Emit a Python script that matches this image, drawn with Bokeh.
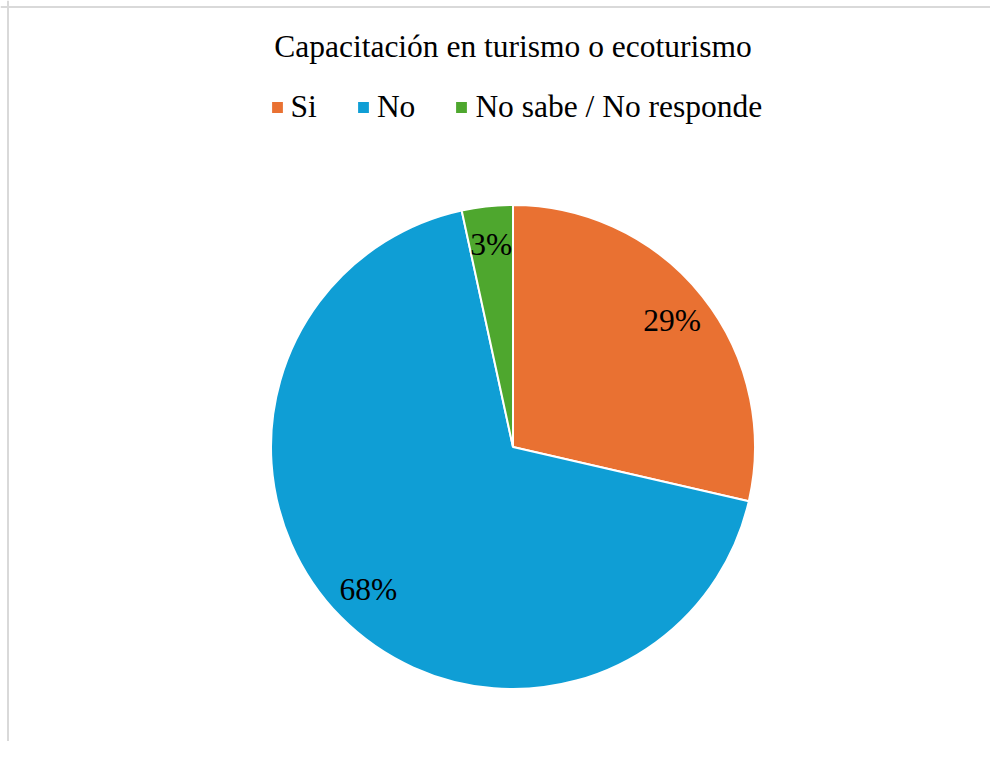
import numpy as np
from bokeh.plotting import figure
from bokeh.models import ColumnDataSource, Range1d, Span, Label
from bokeh.core.properties import value
from bokeh.embed import file_html
from bokeh.resources import INLINE

# ---- data ----
categories = ["Si", "No", "No sabe / No responde"]
shares = [28.6, 68.0, 3.4]          # percent
colors = ["#E97132", "#0F9ED5", "#4EA72E"]
title_text = "Capacitación en turismo o ecoturismo"

# ---- layout constants ----
W, H = 990, 741
CX, CY, R = 512.5, H - 446.5, 242
FONT = "Liberation Serif"
FS = "31.5px"

vals = np.array(shares, dtype=float)
frac = vals / vals.sum()
cum = np.concatenate([[0.0], np.cumsum(frac)])
start = np.pi / 2 - 2 * np.pi * cum[:-1]
end = np.pi / 2 - 2 * np.pi * cum[1:]
mid = (start + end) / 2
lab_r = 0.84 * R

src = ColumnDataSource(dict(
    cat=categories, start=start, end=end, color=colors,
    lx=CX + lab_r * np.cos(mid), ly=CY + lab_r * np.sin(mid),
    txt=[f"{v:.0f}%" for v in vals],
))

p = figure(width=W, height=H, output_backend="svg", toolbar_location=None,
           x_range=Range1d(0, W), y_range=Range1d(0, H), title=None,
           x_axis_location=None, y_axis_location=None, min_border=0)
p.grid.visible = False
p.outline_line_color = None
p.background_fill_color = "white"
p.border_fill_color = "white"

p.wedge(x=CX, y=CY, radius=R, start_angle="start", end_angle="end",
        direction="clock", fill_color="color", line_color="white",
        line_width=2, legend_field="cat", source=src)

p.text(x="lx", y="ly", text="txt", source=src, text_font=value(FONT),
       text_font_size=FS, text_align="center", text_baseline="middle",
       text_color="#000000")

p.add_layout(Label(x=512.5, y=H - 45.5, text=title_text, text_font=FONT,
                   text_font_size=FS, text_align="center",
                   text_baseline="middle", text_color="#000000"))

# chart border (left and top edges visible in the reference)
p.add_layout(Span(location=7.5, dimension="height", line_color="#d9d9d9", line_width=2))
p.add_layout(Span(location=H - 6.5, dimension="width", line_color="#d9d9d9", line_width=2))

lg = p.legend[0]
lg.orientation = "horizontal"
lg.location = (268.6, 616.5)
lg.label_text_font = FONT
lg.label_text_font_size = FS
lg.label_text_color = "#000000"
lg.glyph_width = 16
lg.glyph_height = 16
lg.label_standoff = 6
lg.spacing = 38
lg.padding = 0
lg.margin = 0
lg.border_line_color = None
lg.background_fill_alpha = 0

open("out.html", "w").write(file_html(p, INLINE))
